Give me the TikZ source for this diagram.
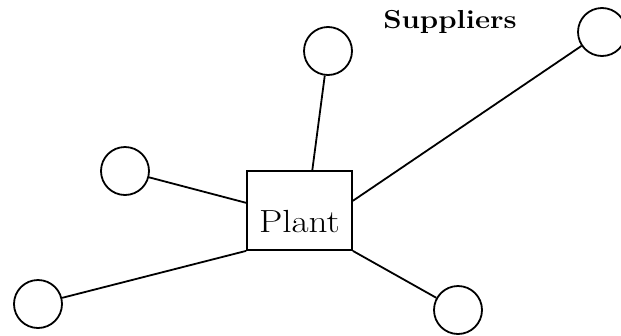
\documentclass[tikz,border=0pt]{standalone}
\usepackage{fontspec}
\newfontfamily\plantfont[FakeStretch=1.16]{Latin Modern Roman}
\newfontfamily\supfont[FakeStretch=1.13]{Latin Modern Roman}
\usetikzlibrary{calc}
\begin{document}
\begin{tikzpicture}[x=1pt,y=-1pt,
  supplier/.style={draw,circle,minimum size=48pt,inner sep=0pt,line width=1.8pt},
  plantbox/.style={draw,rectangle,minimum width=105pt,minimum height=79pt,inner sep=0pt,line width=1.8pt,
    text height=43pt,text depth=0pt,font=\plantfont\fontsize{32}{34}\selectfont},
  link/.style={line width=1.8pt}]
\useasboundingbox (0,0) rectangle (621,335);
\node[plantbox] (plant) at (299.5,210.5) {Plant};
\node[supplier] (s1) at (328,51) {};
\node[supplier] (s2) at (602,32) {};
\node[supplier] (s3) at (125,171) {};
\node[supplier] (s4) at (38,304) {};
\node[supplier] (s5) at (458,310) {};
\node[anchor=base,font=\supfont\bfseries\fontsize{26}{28}\selectfont,inner sep=0pt] (lab) at (450,28) {Suppliers};
\coordinate (ptop) at ($(plant.north west)!0.62!(plant.north east)$);
\coordinate (pright) at ($(plant.north east)!0.38!(plant.south east)$);
\coordinate (pleft) at ($(plant.north west)!0.405!(plant.south west)$);
\draw[link] (s1) -- (ptop);
\draw[link] (s2) -- (pright);
\draw[link] (s3) -- (pleft);
\draw[link] (s4) -- (plant.south west);
\draw[link] (s5) -- (plant.south east);
\end{tikzpicture}
\end{document}
